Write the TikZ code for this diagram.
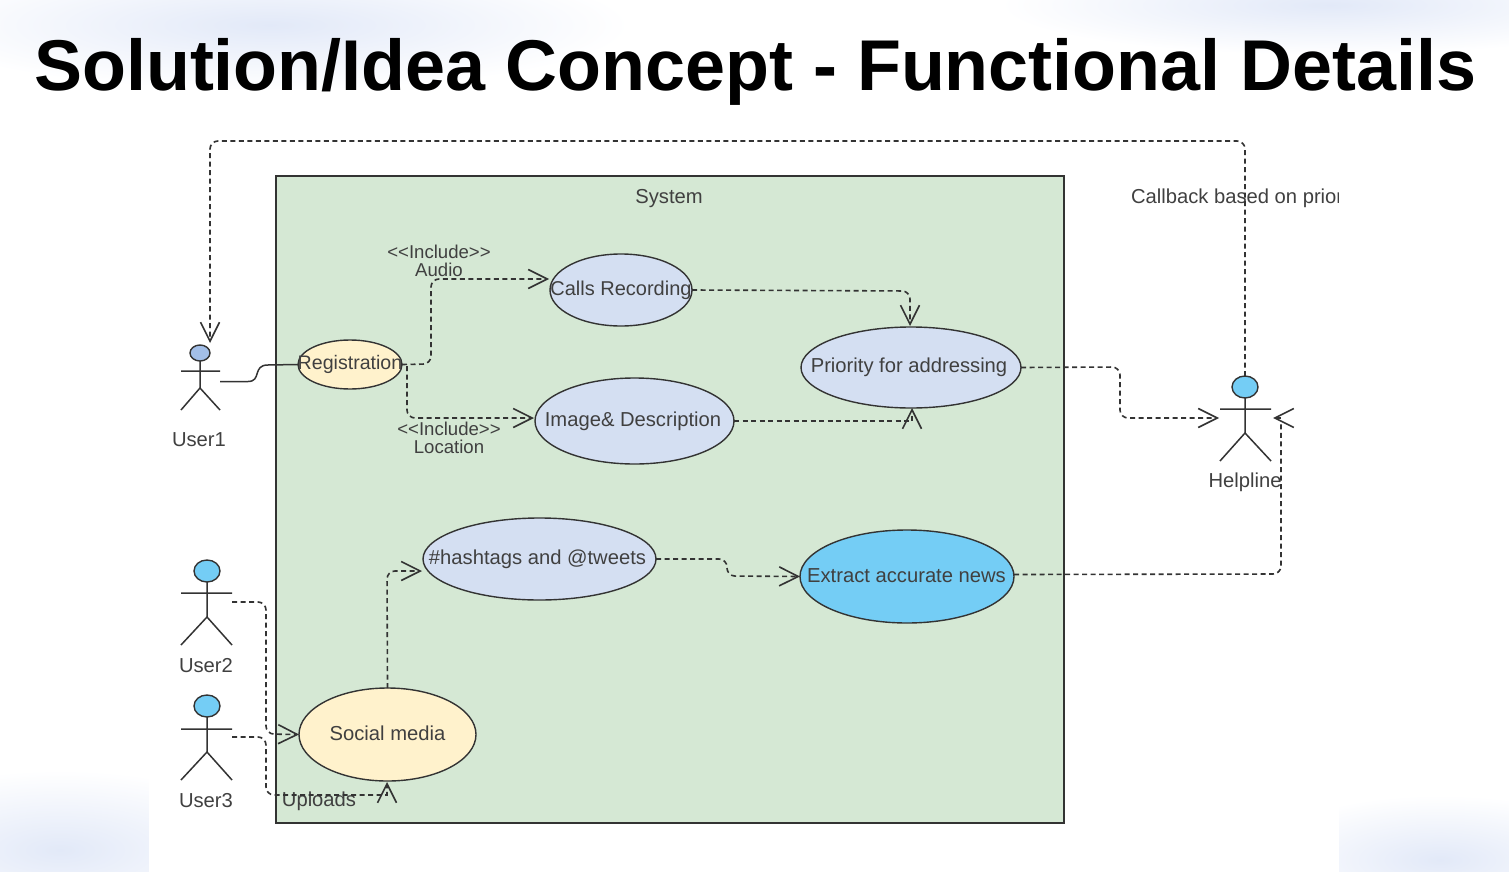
\documentclass[tikz,border=0pt]{standalone}
\usepackage{fontspec}
\setmainfont{Liberation Sans}
\usetikzlibrary{arrows.meta,shapes.geometric}
\definecolor{inkc}{HTML}{404040}
\definecolor{linec}{HTML}{333333}
\definecolor{sysfill}{HTML}{D5E8D4}
\definecolor{peach}{HTML}{FFF2CC}
\definecolor{paleblue}{HTML}{D4DFF2}
\definecolor{headblue}{HTML}{A3BFE8}
\definecolor{skyc}{HTML}{74CDF5}
\definecolor{haze}{HTML}{E2E9F8}
\tikzset{
  x=1pt,y=-1pt,
  usecase/.style={ellipse,draw=linec,line width=1.4pt,inner sep=0pt,outer sep=0pt,text=inkc,font=\fontsize{20.2}{22}\selectfont},
  lab/.style={inner sep=0pt,outer sep=0pt,text=inkc,font=\fontsize{20.2}{22}\selectfont,align=center},
  inclab/.style={lab,font=\fontsize{18.6}{20}\selectfont},
  head/.style={ellipse,draw=linec,line width=1.4pt,inner sep=0pt,outer sep=0pt},
  limb/.style={draw=linec,line width=1.5pt},
  dep/.style={draw=linec,line width=1.6pt,dash pattern=on 5pt off 3.5pt,rounded corners=8pt,-{Straight Barb[length=19pt,width=19pt,line width=1.6pt]}},
  plain/.style={draw=linec,line width=1.6pt,dash pattern=on 5pt off 3.5pt,rounded corners=8pt}
}
\newcommand{\zw}[3]{\makebox[0pt]{\kern#1\raisebox{#2}{#3}}}
\begin{document}
\begin{tikzpicture}
\useasboundingbox (0,0) rectangle (1509,872);
% slide background
\fill[white] (0,0) rectangle (1509,872);
\begin{scope}
\clip (0,0) rectangle (1509,872);
\shade[inner color=haze,outer color=white] (270,25) ellipse [x radius=360,y radius=65];
\shade[inner color=haze,outer color=white] (1330,5) ellipse [x radius=330,y radius=50];
\shade[inner color=haze,outer color=white] (60,850) ellipse [x radius=220,y radius=80];
\shade[inner color=haze,outer color=white] (1440,860) ellipse [x radius=190,y radius=65];
\end{scope}
\fill[white] (149,122) rectangle (1339,872);
% title
\node[anchor=base west,inner sep=0pt,font=\fontsize{71.9}{80}\selectfont\bfseries,text=black] (title) at (34,91) {Solution/Idea Concept - Functional Details};
% system
\node[draw=linec,fill=sysfill,line width=1.6pt,minimum width=788pt,minimum height=647pt,inner sep=0pt,outer sep=0pt,anchor=north west] (system) at (276,176) {};
\node[lab] (systemlabel) at (669,198.5) {System};
% use cases
\node[usecase,fill=peach,minimum width=104pt,minimum height=49pt] (reg) at (350,364.5) {\zw{0pt}{-1.5pt}{\fontsize{19.6}{22}\selectfont Registration}};
\node[usecase,fill=paleblue,minimum width=142pt,minimum height=72pt] (calls) at (621,290) {\zw{0pt}{-1.5pt}{\fontsize{20}{22}\selectfont Calls Recording}};
\node[usecase,fill=paleblue,minimum width=199pt,minimum height=86pt] (image) at (634.5,421) {\zw{-3pt}{0pt}{Image\& Description}};
\node[usecase,fill=paleblue,minimum width=220pt,minimum height=81pt] (priority) at (911,367.5) {\zw{-4pt}{1.5pt}{Priority for addressing}};
\node[usecase,fill=paleblue,minimum width=233pt,minimum height=82pt] (hash) at (539.5,559) {\zw{-4pt}{-3pt}{\#hashtags and @tweets}};
\node[usecase,fill=skyc,minimum width=214pt,minimum height=93pt] (extract) at (907,576.5) {\zw{-1pt}{1.5pt}{Extract accurate news}};
\node[usecase,fill=peach,minimum width=177pt,minimum height=93pt] (social) at (387.5,734.5) {\zw{0pt}{2pt}{Social media}};
% edge labels
\node[inclab] (inca) at (439,261) {<{}<Include>{}>\\[-2pt]Audio};
\node[inclab] (incl) at (449,437.5) {<{}<Include>{}>\\[-2pt]Location};
\node[lab] (uploads) at (319,801) {Uploads};
% actors
\node[head,fill=headblue,minimum width=20pt,minimum height=16pt] (u1) at (200,353) {};
\node[head,fill=skyc,minimum width=26pt,minimum height=22pt] (u2) at (207,571) {};
\node[head,fill=skyc,minimum width=26pt,minimum height=22pt] (u3) at (207,706) {};
\node[head,fill=skyc,minimum width=26pt,minimum height=22pt] (help) at (1245,387) {};
\draw[limb] (u1.south) -- (200,388) -- (181,410) (200,388) -- (220,410) (181,371) -- (220,371);
\draw[limb] (u2.south) -- (207,617) -- (181,645) (207,617) -- (232,645) (181,593) -- (232,593);
\draw[limb] (u3.south) -- (207,752) -- (181,780) (207,752) -- (232,780) (181,729) -- (232,729);
\draw[limb] (help.south) -- (1245,433) -- (1220,461) (1245,433) -- (1271,461) (1220,409) -- (1271,409);
\node[lab] (u1l) at (199,440) {User1};
\node[lab] (u2l) at (206,666) {User2};
\node[lab] (u3l) at (206,801) {User3};
\node[lab] (helpl) at (1245,482) {Helpline};
% clipped callback label
\begin{scope}
\clip (1120,180) rectangle (1338,215);
\node[lab,anchor=west] (callback) at (1131,198.5) {Callback based on priority};
\end{scope}
% free ends
\coordinate (u1hand) at (220,381.5);
\coordinate (u1tip) at (210,343);
\coordinate (u2hand) at (232,602);
\coordinate (u3hand) at (232,737);
\coordinate (callstip) at (549,279);
\coordinate (imagetip) at (534,418);
\coordinate (hashtip) at (422,571);
\coordinate (helpleft) at (1219,418);
\coordinate (helpright) at (1273,418);
\coordinate (calltip) at (910,326);
\coordinate (pritip) at (912,408);
\coordinate (socbot) at (387,782);
% connectors
\draw[draw=linec,line width=1.5pt] (u1hand) -- (248,381.5) .. controls (262,381.5) and (252,365) .. (268,365) -- (reg.west);
\draw[dep] (help.north) -- (1245,141) -- (210,141) -- (u1tip);
\draw[dep] (reg.east) -- (431,364) -- (431,279) -- (callstip);
\draw[dep] (407,366) -- (407,418) -- (imagetip);
\draw[dep] (calls.east) -- (910,291) -- (calltip);
\draw[dep,sharp corners] (image.east) -- (912,421) -- (pritip);
\draw[dep] (priority.east) -- (1120,367) -- (1120,418) -- (helpleft);
\draw[plain] (extract.east) ++(0,-2) -- (1281,574) -- (1281,422);
\draw[dep,sharp corners] (1281,418) -- (helpright);
\draw[dep] (hash.east) -- (727,559) -- (727,576) -- (extract.west);
\draw[dep] (social.north) -- (387,571) -- (hashtip);
\draw[dep] (u2hand) -- (266,602) -- (266,734) -- (social.west);
\draw[dep] (u3hand) -- (266,737) -- (266,795) -- (378,795) [sharp corners] -- (387,795) -- (socbot);
\end{tikzpicture}
\end{document}
